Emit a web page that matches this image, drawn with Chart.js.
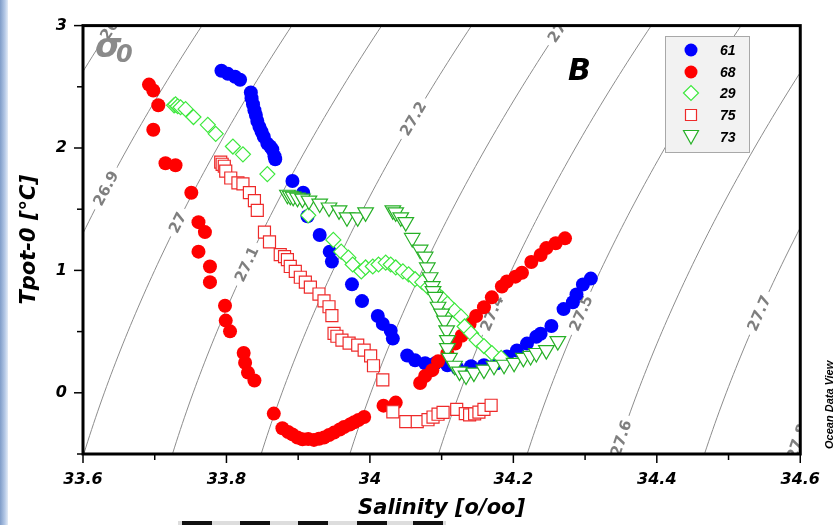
<!DOCTYPE html>
<html>
<head>
<meta charset="utf-8">
<script src="https://cdn.jsdelivr.net/npm/chart.js@4.4.0/dist/chart.umd.min.js"></script>
<style>
html,body{margin:0;padding:0;background:#fff;}
#wrap{position:relative;width:836px;height:525px;overflow:hidden;background:#fff;}
#strip{position:absolute;left:0;top:0;width:8px;height:525px;background:linear-gradient(to right,#7f9cc8,#b4c8e6 60%,#e4ecf7);}
#bar{position:absolute;left:178px;top:521px;width:268px;height:4px;background:#ddd;}
.blk{position:absolute;top:0;height:4px;width:30px;background:#111;}
canvas{position:absolute;left:0;top:0;}
</style>
</head>
<body>
<div id="wrap">
<div id="strip"></div>
<div id="bar"><div class="blk" style="left:4px"></div><div class="blk" style="left:62px"></div><div class="blk" style="left:120px"></div><div class="blk" style="left:179px"></div><div class="blk" style="left:235px"></div></div>
<canvas id="c" width="836" height="525"></canvas>
</div>
<script>
// ---- data (salinity, potential temperature) ----
const salt61=[33.793,33.802,33.812,33.819,33.834,33.835,33.837,33.839,33.841,33.843,33.846,33.849,33.852,33.857,33.861,33.864,33.867,33.868,33.892,33.907,33.913,33.930,33.944,33.947,33.975,33.989,34.011,34.018,34.029,34.032,34.052,34.063,34.077,34.091,34.108,34.122,34.141,34.159,34.177,34.191,34.205,34.219,34.232,34.238,34.253,34.270,34.283,34.288,34.297,34.308];
const temp61=[2.631,2.606,2.582,2.558,2.454,2.406,2.357,2.309,2.269,2.221,2.173,2.133,2.092,2.036,2.012,1.988,1.932,1.908,1.731,1.635,1.442,1.289,1.153,1.072,0.886,0.749,0.628,0.563,0.507,0.443,0.305,0.265,0.241,0.241,0.225,0.201,0.217,0.225,0.241,0.297,0.345,0.402,0.458,0.482,0.546,0.684,0.740,0.804,0.885,0.933];

const salt68=[33.692,33.698,33.705,33.698,33.715,33.729,33.751,33.761,33.770,33.761,33.777,33.777,33.798,33.799,33.805,33.824,33.826,33.830,33.839,33.866,33.878,33.886,33.892,33.899,33.906,33.914,33.922,33.929,33.936,33.943,33.950,33.958,33.964,33.972,33.978,33.984,33.992,34.019,34.036,34.070,34.077,34.087,34.095,34.108,34.119,34.128,34.139,34.148,34.159,34.170,34.184,34.191,34.203,34.212,34.225,34.238,34.246,34.259,34.272];
const temp68=[2.518,2.470,2.349,2.149,1.876,1.859,1.635,1.394,1.313,1.153,1.032,0.904,0.711,0.590,0.502,0.325,0.245,0.165,0.100,-0.170,-0.290,-0.320,-0.340,-0.365,-0.380,-0.378,-0.385,-0.375,-0.365,-0.345,-0.325,-0.300,-0.280,-0.260,-0.240,-0.222,-0.198,-0.105,-0.080,0.080,0.137,0.185,0.257,0.321,0.402,0.466,0.562,0.627,0.699,0.780,0.868,0.909,0.949,0.981,1.069,1.126,1.182,1.222,1.262];

const salt29=[33.727,33.729,33.732,33.736,33.743,33.754,33.774,33.785,33.809,33.823,33.857,33.914,33.949,33.960,33.970,33.976,33.988,33.994,34.004,34.012,34.022,34.029,34.036,34.046,34.054,34.063,34.073,34.081,34.091,34.100,34.108,34.118,34.127,34.132,34.141,34.149,34.159,34.170,34.183];
const temp29=[2.349,2.357,2.341,2.333,2.317,2.253,2.189,2.116,2.012,1.948,1.787,1.450,1.249,1.153,1.104,1.048,0.992,1.024,1.032,1.048,1.064,1.048,1.024,0.992,0.968,0.928,0.904,0.863,0.823,0.775,0.727,0.671,0.622,0.542,0.486,0.430,0.382,0.325,0.285];

const salt75=[33.792,33.794,33.797,33.799,33.806,33.816,33.823,33.832,33.839,33.843,33.853,33.860,33.875,33.881,33.885,33.889,33.896,33.903,33.910,33.917,33.929,33.936,33.943,33.947,33.950,33.954,33.961,33.971,33.983,33.992,34.001,34.005,34.018,34.032,34.050,34.066,34.081,34.088,34.095,34.102,34.121,34.133,34.139,34.146,34.152,34.159,34.169];
const temp75=[1.884,1.867,1.851,1.811,1.755,1.715,1.707,1.635,1.570,1.490,1.313,1.233,1.129,1.112,1.088,1.032,0.992,0.944,0.904,0.863,0.807,0.751,0.703,0.631,0.486,0.462,0.430,0.406,0.390,0.349,0.301,0.221,0.105,-0.155,-0.235,-0.235,-0.220,-0.198,-0.175,-0.160,-0.135,-0.170,-0.180,-0.172,-0.158,-0.135,-0.102];

const salt73=[33.885,33.889,33.893,33.899,33.906,33.915,33.930,33.943,33.957,33.968,33.983,33.994,34.032,34.036,34.043,34.050,34.059,34.070,34.077,34.080,34.084,34.087,34.088,34.091,34.095,34.100,34.104,34.107,34.108,34.108,34.111,34.118,34.125,34.134,34.145,34.159,34.173,34.187,34.201,34.214,34.224,34.232,34.246,34.262];
const temp73=[1.618,1.610,1.602,1.594,1.586,1.570,1.546,1.514,1.490,1.434,1.434,1.474,1.490,1.474,1.434,1.394,1.265,1.169,1.112,1.024,0.944,0.871,0.831,0.783,0.703,0.647,0.590,0.510,0.430,0.365,0.285,0.221,0.173,0.141,0.165,0.189,0.221,0.229,0.245,0.285,0.301,0.325,0.349,0.422];

const seriesNames=['61','68','29','75','73'];
const xTickValues=[33.6,33.8,34.0,34.2,34.4,34.6];
const xTickLabels=['33.6','33.8','34','34.2','34.4','34.6'];
const yTickValues=[0,1,2,3];
const yTickLabels=['0','1','2','3'];
// isopycnal (sigma-0) levels and the temperature where each label sits
const contourLevels=[26.8,26.9,27.0,27.1,27.2,27.3,27.4,27.5,27.6,27.7,27.8];
const contourLabelTemp=[3.02,1.67,1.39,1.05,2.24,3.0,0.65,0.65,-0.37,0.65,-0.40];

// ---- seawater density at surface pressure (UNESCO EOS-80) ----
function rho0(S,T){
  const T2=T*T,T3=T2*T,T4=T3*T,T5=T4*T;
  const rw=999.842594+6.793952e-2*T-9.095290e-3*T2+1.001685e-4*T3-1.120083e-6*T4+6.536332e-9*T5;
  const A=8.24493e-1-4.0899e-3*T+7.6438e-5*T2-8.2467e-7*T3+5.3875e-9*T4;
  const B=-5.72466e-3+1.0227e-4*T-1.6546e-6*T2;
  return rw+A*S+B*S*Math.sqrt(S)+4.8314e-4*S*S;
}
function isoSalt(sig,T){
  let lo=30,hi=38;
  for(let i=0;i<60;i++){const m=(lo+hi)/2; if(rho0(m,T)-1000<sig) lo=m; else hi=m;}
  return (lo+hi)/2;
}
const contourTemps=[];
for(let k=-14;k<=64;k++) contourTemps.push(k*0.05);

const pts=(s,t)=>s.map((v,i)=>({x:v,y:t[i]}));
const FONT='"DejaVu Sans", sans-serif';

const contourSets=contourLevels.map((lev,i)=>({
  label:'sigma'+lev, isContour:true, levelIndex:i,
  data:contourTemps.map(t=>({x:isoSalt(lev,t),y:t})),
  showLine:true,pointRadius:0,pointHoverRadius:0,borderColor:'#8c8c8c',borderWidth:1,order:100,fill:false
}));

const styles=[
  {pointStyle:'circle',pointRadius:7,backgroundColor:'#0000ff',borderColor:'#0000ff',borderWidth:0,order:5},
  {pointStyle:'circle',pointRadius:7,backgroundColor:'#ff0000',borderColor:'#ff0000',borderWidth:0,order:4},
  {pointStyle:'rectRot',pointRadius:7.5,backgroundColor:'#ffffff',borderColor:'#3ee83e',borderWidth:1.2,order:2},
  {pointStyle:'rect',pointRadius:8.5,backgroundColor:'#ffffff',borderColor:'#ee2a2a',borderWidth:1.2,order:3},
  {pointStyle:'triangle',rotation:180,pointRadius:9,backgroundColor:'#ffffff',borderColor:'#26b026',borderWidth:1.2,order:1}
];
const seriesData=[pts(salt61,temp61),pts(salt68,temp68),pts(salt29,temp29),pts(salt75,temp75),pts(salt73,temp73)];
const seriesSets=seriesNames.map((n,i)=>Object.assign({label:n,data:seriesData[i],showLine:false,pointHoverRadius:styles[i].pointRadius},styles[i]));

function drawMarker(ctx,st,x,y){
  ctx.save();
  ctx.fillStyle=st.backgroundColor; ctx.strokeStyle=st.borderColor; ctx.lineWidth=st.borderWidth||1;
  ctx.beginPath();
  if(st.pointStyle==='circle'){ctx.arc(x,y,6.5,0,Math.PI*2);ctx.fill();}
  else if(st.pointStyle==='rectRot'){ctx.moveTo(x-7.5,y);ctx.lineTo(x,y-7.5);ctx.lineTo(x+7.5,y);ctx.lineTo(x,y+7.5);ctx.closePath();ctx.fill();ctx.stroke();}
  else if(st.pointStyle==='rect'){ctx.rect(x-5.5,y-5.5,11,11);ctx.fill();ctx.stroke();}
  else {ctx.moveTo(x-7.5,y-6.5);ctx.lineTo(x+7.5,y-6.5);ctx.lineTo(x,y+7);ctx.closePath();ctx.fill();ctx.stroke();}
  ctx.restore();
}

const decor={
  id:'decor',
  afterDatasetDraw(chart,args){
    const ds=chart.data.datasets[args.index];
    if(!ds.isContour) return;
    const {ctx,chartArea:a,scales:{x,y}}=chart;
    const lev=contourLevels[ds.levelIndex], T=contourLabelTemp[ds.levelIndex];
    const px=x.getPixelForValue(isoSalt(lev,T)), py=y.getPixelForValue(T);
    const p1x=x.getPixelForValue(isoSalt(lev,T-0.05)), p1y=y.getPixelForValue(T-0.05);
    const p2x=x.getPixelForValue(isoSalt(lev,T+0.05)), p2y=y.getPixelForValue(T+0.05);
    const ang=Math.atan2(p2y-p1y,p2x-p1x);
    ctx.save();
    ctx.beginPath();ctx.rect(a.left,a.top,a.right-a.left,a.bottom-a.top);ctx.clip();
    ctx.translate(px,py);ctx.rotate(ang);
    ctx.font='bold 15px '+FONT;
    const txt=String(lev);
    const w=ctx.measureText(txt).width;
    ctx.fillStyle='#ffffff';ctx.fillRect(-w/2-5,-7,w+10,14);
    ctx.fillStyle='#7f7f7f';ctx.textAlign='center';ctx.textBaseline='middle';
    ctx.fillText(txt,0,1);
    ctx.restore();
  },
  afterDraw(chart){
    const {ctx,chartArea:a,scales:{x,y}}=chart;
    ctx.save();
    // ticks
    ctx.strokeStyle='#000';ctx.lineWidth=1.5;
    for(let k=0;k<=10;k++){
      const v=33.6+k*0.1, px=x.getPixelForValue(v), len=(k%2===0)?9:6;
      ctx.beginPath();ctx.moveTo(px,a.bottom);ctx.lineTo(px,a.bottom+len);ctx.stroke();
    }
    for(let k=0;k<=7;k++){
      const v=-0.5+k*0.5, py=y.getPixelForValue(v), len=(k%2===1)?9:6;
      ctx.beginPath();ctx.moveTo(a.left,py);ctx.lineTo(a.left-len,py);ctx.stroke();
    }
    // frame
    ctx.lineWidth=3;ctx.strokeRect(a.left,a.top,a.right-a.left,a.bottom-a.top);
    // sigma label
    ctx.fillStyle='#8a8a8a';ctx.textBaseline='alphabetic';ctx.textAlign='left';
    ctx.font='bold italic 34px '+FONT;ctx.fillText('σ',95,57);
    ctx.font='bold italic 24px '+FONT;ctx.fillText('0',116,62);
    // panel letter
    ctx.fillStyle='#000';ctx.font='bold italic 30px '+FONT;ctx.fillText('B',568,80);
    // legend
    const lx=665,ly=36,lw=84,lh=116;
    ctx.fillStyle='#f2f2f2';ctx.fillRect(lx,ly,lw,lh);
    ctx.strokeStyle='#a8a8a8';ctx.lineWidth=1;ctx.strokeRect(lx+0.5,ly+0.5,lw,lh);
    const rows=[50,72,93,115,137];
    seriesNames.forEach((n,i)=>{
      drawMarker(ctx,styles[i],691,rows[i]);
      ctx.fillStyle='#000';ctx.font='bold italic 14px "Liberation Sans", Arial, sans-serif';
      ctx.textAlign='left';ctx.textBaseline='middle';ctx.fillText(n,720,rows[i]+1);
    });
    // ODV credit
    ctx.translate(830,449);ctx.rotate(-Math.PI/2);
    ctx.font='bold italic 11px "Liberation Sans", Arial, sans-serif';ctx.fillStyle='#000';
    ctx.textAlign='left';ctx.textBaseline='middle';ctx.fillText('Ocean Data View',0,0);
    ctx.restore();
  }
};

new Chart(document.getElementById('c'),{
  type:'scatter',
  data:{datasets:contourSets.concat(seriesSets)},
  options:{
    responsive:false,animation:false,devicePixelRatio:1,
    layout:{padding:{left:0,top:17,right:25,bottom:0}},
    plugins:{legend:{display:false},tooltip:{enabled:false}},
    scales:{
      x:{type:'linear',min:33.6,max:34.6,
        afterBuildTicks:s=>{s.ticks=xTickValues.map(v=>({value:v}));},
        afterFit:s=>{s.height=71;},
        ticks:{callback:(v,i)=>xTickLabels[i],padding:16,color:'#000',maxRotation:0,autoSkip:false,
          font:{family:FONT,size:16,weight:'bold',style:'italic'}},
        grid:{display:false,drawTicks:false},border:{display:false},
        title:{display:true,text:'Salinity [o/oo]',color:'#000',padding:{top:0,bottom:4},
          font:{family:FONT,size:21,weight:'bold',style:'italic'}}},
      y:{type:'linear',min:-0.5,max:3,
        afterBuildTicks:s=>{s.ticks=yTickValues.map(v=>({value:v}));},
        afterFit:s=>{s.width=83;},
        ticks:{callback:(v,i)=>yTickLabels[i],padding:16,color:'#000',autoSkip:false,
          font:{family:FONT,size:16,weight:'bold',style:'italic'}},
        grid:{display:false,drawTicks:false},border:{display:false},
        title:{display:true,text:'Tpot-0 [°C]',color:'#000',padding:{top:17,bottom:0},
          font:{family:FONT,size:21,weight:'bold',style:'italic'}}}
    }
  },
  plugins:[decor]
});
</script>
</body>
</html>
